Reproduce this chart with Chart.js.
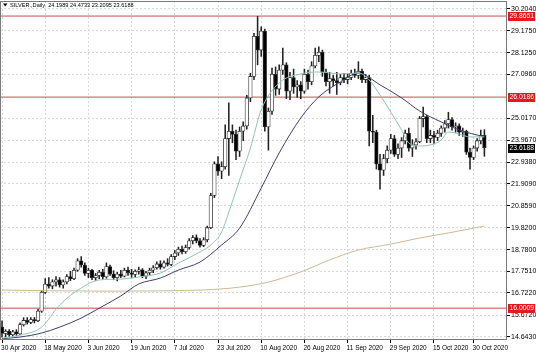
<!DOCTYPE html>
<html><head><meta charset="utf-8">
<script src="https://cdn.jsdelivr.net/npm/chart.js@4.4.0/dist/chart.umd.min.js"></script>
<style>html,body{margin:0;padding:0;background:#fff;}#wrap{width:536px;height:357px;}</style>
</head><body><div id="wrap"><canvas id="c" width="536" height="357"></canvas></div>
<script>
// trading-day index 0 = 30 Apr 2020 ... 134 = 4 Nov 2020
const tickIndex  = [0,12,24,36,48,60,72,84,96,108,120,131];
const tickLabels = ['30 Apr 2020','18 May 2020','3 Jun 2020','19 Jun 2020','7 Jul 2020','23 Jul 2020','10 Aug 2020','26 Aug 2020','11 Sep 2020','29 Sep 2020','15 Oct 2020','30 Oct 2020'];
const yTicks = [30.2040,29.1750,28.1250,27.0960,25.0170,23.9670,22.9380,21.9090,20.8590,19.8200,18.7800,17.7510,16.7220,15.6720,14.6430];
const levels = [29.8651,26.0186,16.0009];
const lastPrice = 23.6188;
const titleText = 'SILVER.,Daily  24.1989 24.4733 23.2095 23.6188';

const open = [15.10,14.80,14.90,14.74,14.88,14.78,15.22,15.42,15.32,15.46,15.40,15.86,16.75,17.15,17.05,17.25,17.35,17.10,17.25,17.50,
17.40,17.80,18.25,18.05,17.65,17.80,17.45,17.55,17.70,17.48,17.98,17.62,17.45,17.62,17.52,17.80,17.68,17.60,17.75,17.82,
17.52,17.68,17.80,17.92,18.10,17.95,18.15,18.08,18.45,18.62,18.80,18.68,18.88,19.20,19.35,19.20,18.98,19.25,19.82,21.35,
22.85,22.50,22.72,24.05,24.40,24.25,23.45,24.40,24.65,25.98,27.00,28.90,28.25,29.15,24.60,25.35,27.10,26.40,27.30,27.55,
26.30,26.95,26.50,26.60,26.30,27.10,26.75,27.50,28.00,28.15,27.20,26.75,26.90,26.80,26.70,26.95,26.85,26.95,27.15,27.05,
27.25,26.85,26.95,24.40,24.35,22.85,22.55,23.10,23.50,24.05,23.30,23.60,23.95,24.30,23.60,23.75,23.90,25.00,25.10,24.05,
24.20,24.10,24.30,24.55,24.75,24.95,24.60,24.65,24.35,24.40,23.40,23.15,23.60,23.95,24.1989];
const high = [15.40,14.98,14.98,14.95,14.98,15.30,15.55,15.56,15.55,15.56,15.95,16.85,17.40,17.45,17.35,17.50,17.45,17.35,17.60,17.75,
17.90,18.35,18.45,18.15,17.90,17.85,17.65,17.80,17.85,18.15,18.05,17.78,17.70,17.80,17.90,17.95,17.85,17.82,17.95,17.88,
17.75,17.90,18.02,18.20,18.25,18.25,18.35,18.55,18.75,18.90,18.95,19.00,19.30,19.45,19.48,19.30,19.35,19.90,21.45,22.95,
23.20,22.95,24.70,25.75,24.70,24.45,24.60,24.85,26.10,27.15,29.05,29.85,29.35,29.25,25.50,27.40,27.45,27.55,28.35,27.65,
27.20,27.35,26.80,26.75,27.35,27.30,27.70,28.35,28.40,28.25,27.35,27.20,27.05,27.20,27.10,27.15,27.10,27.30,27.35,27.70,
27.35,27.10,27.05,25.15,24.45,23.30,23.30,23.70,24.25,24.20,23.80,24.10,24.45,24.55,24.00,24.05,25.10,25.55,25.15,24.45,
24.40,24.45,24.65,24.90,25.30,25.05,24.80,24.75,24.55,24.45,23.60,23.70,24.05,24.45,24.4733];
const low = [14.62,14.64,14.66,14.68,14.70,14.74,15.15,15.24,15.26,15.30,15.36,15.80,16.70,16.95,16.92,17.05,17.00,16.95,17.15,17.30,
17.35,17.75,17.95,17.55,17.45,17.35,17.30,17.40,17.38,17.42,17.55,17.35,17.30,17.45,17.48,17.55,17.45,17.50,17.62,17.45,
17.40,17.58,17.68,17.85,17.85,17.90,18.00,18.02,18.30,18.50,18.58,18.60,18.80,19.05,19.10,18.90,18.92,19.15,19.78,21.25,
22.30,22.15,22.60,22.30,23.85,23.05,23.20,23.95,24.50,25.80,26.85,27.55,27.95,24.40,23.50,25.20,26.10,26.15,27.10,25.95,
25.90,26.20,26.00,25.95,26.20,26.40,26.60,27.40,27.70,27.00,26.55,26.20,26.55,26.15,26.60,26.70,26.65,26.85,26.95,26.90,
26.70,26.70,23.70,23.85,22.60,21.65,22.30,22.90,23.35,23.20,23.10,23.15,23.80,23.45,23.20,23.55,23.85,24.60,23.85,23.85,
23.80,23.95,24.15,24.35,24.55,24.45,24.35,24.20,24.15,23.30,22.60,23.05,23.45,23.80,23.2095];
const close = [14.80,14.90,14.74,14.88,14.78,15.22,15.42,15.32,15.46,15.40,15.86,16.75,17.15,17.05,17.25,17.35,17.10,17.25,17.50,17.40,
17.80,18.25,18.05,17.65,17.80,17.45,17.55,17.70,17.48,17.98,17.62,17.45,17.62,17.52,17.80,17.68,17.60,17.75,17.82,17.52,
17.68,17.80,17.92,18.10,17.95,18.15,18.08,18.45,18.62,18.80,18.68,18.88,19.20,19.35,19.20,18.98,19.25,19.82,21.35,22.85,
22.50,22.72,24.05,24.40,24.25,23.45,24.40,24.65,25.98,27.00,28.90,28.25,29.15,24.60,25.35,27.10,26.40,27.30,27.55,26.30,
26.95,26.50,26.60,26.30,27.10,26.75,27.50,28.00,28.15,27.20,26.75,26.90,26.80,26.70,26.95,26.85,26.95,27.15,27.05,27.25,
26.85,26.95,24.40,24.35,22.85,22.55,23.10,23.50,24.05,23.30,23.60,23.95,24.30,23.60,23.75,23.90,25.00,25.10,24.05,24.20,
24.10,24.30,24.55,24.75,24.95,24.60,24.65,24.35,24.40,23.40,23.15,23.60,23.95,24.20,23.6188];

// moving averages (bar index, value)
const maFastIdx = [0,5,11,16,22,27,33,38,44,49,55,58,61,63,66,69,72,77,83,88,94,99,102,105,108,111,113,116,119,122,124,127,130,134];
const maFastVal = [14.58,14.72,15.10,16.15,16.96,17.34,17.38,17.48,17.67,18.14,18.67,19.00,19.61,20.56,22.08,23.60,25.41,26.69,27.12,27.21,27.12,27.16,26.83,26.12,25.31,24.46,23.84,23.70,23.75,23.98,24.36,24.27,24.13,24.13];
const maSlowIdx = [0,5,11,16,22,27,33,38,44,49,55,61,66,72,77,83,88,94,99,105,111,116,122,127,134];
const maSlowVal = [14.55,14.63,14.82,15.10,15.53,16.00,16.58,17.15,17.43,17.81,18.19,19.00,19.80,21.70,23.37,25.03,26.03,26.74,27.16,26.60,25.98,25.36,24.84,24.46,24.13];
const ma200Idx = [0,27,55,66,74,83,91,99,108,116,124,134];
const ma200Val = [16.86,16.81,16.86,17.00,17.24,17.72,18.29,18.76,19.04,19.33,19.57,19.90];

const FONT = 'Liberation Sans';
const bodies = close.map((c,i)=>({x:i, y:[open[i], c]}));
const wicks  = close.map((c,i)=>({x:i, y:[low[i], high[i]]}));
const pts = (ix, vals) => ix.map((x,k)=>({x:x, y:vals[k]}));
const hline = v => [{x:-2,y:v},{x:142,y:v}];

const overlay = {
  id:'overlay',
  afterDraw(chart){
    const {ctx, chartArea:a, scales:{y}} = chart;
    ctx.save();
    ctx.strokeStyle='#7a7a7a'; ctx.lineWidth=1;
    ctx.strokeRect(Math.round(a.left)+0.5, Math.round(a.top)+0.5, Math.round(a.right-a.left)-1, Math.round(a.bottom-a.top)-1);
    ctx.font = '6.8px "'+FONT+'"';
    ctx.textBaseline='middle';
    const box=(v,bg)=>{ const py=Math.round(y.getPixelForValue(v)); ctx.fillStyle=bg; ctx.fillRect(a.right+1, py-4, 27, 9); ctx.fillStyle='#fff'; ctx.fillText(v.toFixed(4), a.right+2.5, py+0.5); };
    levels.forEach(v=>box(v,'#e3191c'));
    box(lastPrice,'#000');
    ctx.fillStyle='#000';
    ctx.beginPath(); ctx.moveTo(3,3.5); ctx.lineTo(7.5,3.5); ctx.lineTo(5.25,6.5); ctx.closePath(); ctx.fill();
    ctx.font = '5.6px "'+FONT+'"';
    ctx.fillText(titleText, 10, 5.5);
    ctx.restore();
  }
};

new Chart(document.getElementById('c'), {
  type:'bar',
  data:{ datasets:[
    {type:'line', data:pts(maFastIdx,maFastVal), borderColor:'#8cc4b4', borderWidth:1, pointRadius:0, cubicInterpolationMode:'monotone', order:-1},
    {type:'line', data:pts(maSlowIdx,maSlowVal), borderColor:'#3e3e6c', borderWidth:1, pointRadius:0, cubicInterpolationMode:'monotone', order:-1},
    {type:'line', data:pts(ma200Idx,ma200Val), borderColor:'#cfb894', borderWidth:1, pointRadius:0, cubicInterpolationMode:'monotone', order:-1},
    ...levels.map(v=>({type:'line', data:hline(v), borderColor:'#c0504d', borderWidth:1, pointRadius:0, order:3})),
    {type:'bar', data:bodies, grouped:false, barThickness:3.6, borderWidth:0.8, borderSkipped:false, borderColor:'#333',
      backgroundColor: c => (c.raw && c.raw.y[1] >= c.raw.y[0]) ? '#ffffff' : '#000000', order:1},
    {type:'bar', data:wicks, grouped:false, barThickness:0.9, borderWidth:0, backgroundColor:'#222', order:2}
  ]},
  options:{
    responsive:false, animation:false, devicePixelRatio:1,
    layout:{padding:{top:1,left:0,right:0,bottom:0}},
    plugins:{legend:{display:false}, tooltip:{enabled:false}},
    scales:{
      x:{type:'linear', min:-0.56, max:140.28, offset:false,
        afterBuildTicks: s => { s.ticks = tickIndex.map(v=>({value:v})); },
        afterFit: s => { s.height = 17; s.paddingLeft = 0; s.paddingRight = 0; },
        ticks:{autoSkip:false, maxRotation:0, align:'start', padding:1, labelOffset:-1, color:'#000',
          font:{family:FONT, size:6.5}, callback:(v,i)=>tickLabels[i]},
        grid:{color:'#d8d8d8', offset:false, tickLength:3, tickColor:'#000', drawTicks:true},
        border:{display:false, dash:[2,2]}
      },
      y:{type:'linear', position:'right', min:14.49, max:30.58,
        afterBuildTicks: s => { s.ticks = yTicks.map(v=>({value:v})); },
        afterFit: s => { s.width = 29; s.paddingTop = 0; s.paddingBottom = 0; },
        ticks:{padding:1, color:'#000', font:{family:FONT, size:7}, callback:v=>v.toFixed(4)},
        grid:{color:'#d8d8d8', tickLength:3, tickColor:'#000', drawTicks:true},
        border:{display:false, dash:[2,2]}
      }
    }
  },
  plugins:[overlay]
});
</script></body></html>
